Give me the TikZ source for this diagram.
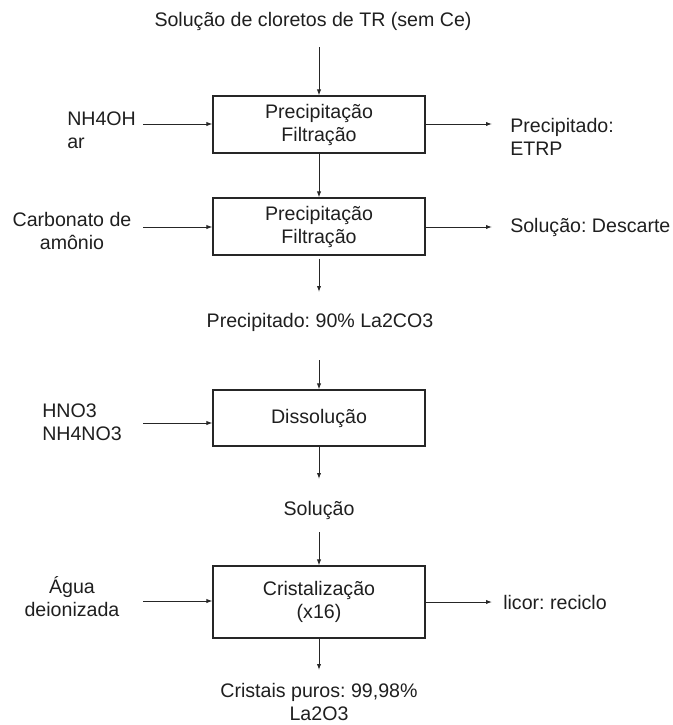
\documentclass[tikz,border=0pt]{standalone}
\usepackage{fontspec}
\setmainfont{Liberation Sans}
\usetikzlibrary{arrows.meta}
\frenchspacing
\begin{document}
\begin{tikzpicture}[x=0.75pt,y=-0.75pt,
  txt/.style={inner sep=0pt,font=\fontsize{14.7}{17.25}\selectfont,text=black!88},
  unit/.style={draw=black!85,line width=0.8pt,minimum width=159pt,minimum height=42.75pt,
    inner sep=0pt,align=center,font=\fontsize{14.7}{17.25}\selectfont,text=black!88},
  flow/.style={draw=black!85,line width=0.7pt,-{Latex[length=4.5pt,width=3.2pt]}}]
\useasboundingbox (0,0) rectangle (673,725);

% main column of process units
\node[unit] (u1) at (319,124.5) {Precipitação\\Filtração};
\node[unit] (u2) at (319,226.5) {Precipitação\\Filtração};
\node[unit,minimum height=42pt] (u3) at (319,418) {Dissolução};
\node[unit,minimum height=54pt] (u4) at (319,602) {Cristalização\\(x16)};

% stream labels along the column
\node[txt] (feed) at (313,21) {Solução de cloretos de TR (sem Ce)};
\node[txt] (ppt) at (320,322) {Precipitado: 90\% La2CO3};
\node[txt] (sol) at (319,510) {Solução};
\node[txt,align=center] (prod) at (319,702) {Cristais puros: 99,98\%\\La2O3};

% reagents entering from the left
\node[txt,align=left,anchor=west] (r1) at (67,130) {NH4OH\\ar};
\node[txt,align=center] (r2) at (72,230.5) {Carbonato de\\amônio};
\node[txt,align=left,anchor=west] (r3) at (42,422.5) {HNO3\\NH4NO3};
\node[txt,align=center] (r4) at (72,596.5) {Água\\deionizada};

% streams leaving to the right
\node[txt,align=left,anchor=west] (o1) at (510,136.5) {Precipitado:\\ETRP};
\node[txt,anchor=west] (o2) at (510,227) {Solução: Descarte};
\node[txt,anchor=west] (o4) at (503,602) {licor: reciclo};

% free ends of the connectors
\coordinate (f0) at (319,47);
\coordinate (f2) at (319,292);
\coordinate (f3) at (319,360);
\coordinate (f4) at (319,479);
\coordinate (f5) at (319,532);
\coordinate (f6) at (319,670);
\coordinate (l1) at (143,124);
\coordinate (l2) at (143,227);
\coordinate (l3) at (143,423);
\coordinate (l4) at (143,601);
\coordinate (e1) at (492,124);
\coordinate (e2) at (492,227);
\coordinate (e4) at (492,602);

% vertical flow
\draw[flow] (f0) -- (u1.north);
\draw[flow] (u1.south) -- (u2.north);
\draw[flow] (u2.south) ++(0,3) -- (f2);
\draw[flow] (f3) -- (u3.north);
\draw[flow] (u3.south) -- (f4);
\draw[flow] (f5) -- (u4.north);
\draw[flow] (u4.south) -- (f6);

% side inputs
\draw[flow] (l1) -- (l1 -| u1.west);
\draw[flow] (l2) -- (l2 -| u2.west);
\draw[flow] (l3) -- (l3 -| u3.west);
\draw[flow] (l4) -- (l4 -| u4.west);

% side outputs
\draw[flow] (e1 -| u1.east) -- (e1);
\draw[flow] (e2 -| u2.east) -- (e2);
\draw[flow] (e4 -| u4.east) -- (e4);
\end{tikzpicture}
\end{document}
